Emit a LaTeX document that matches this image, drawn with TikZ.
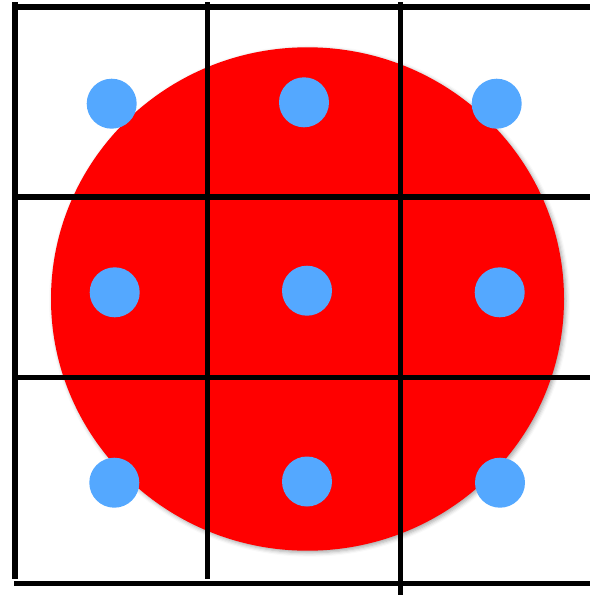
\documentclass[tikz,border=0pt]{standalone}
\usetikzlibrary{shadows.blur}
\definecolor{dotblue}{RGB}{84,168,255}
\definecolor{bigred}{RGB}{255,0,0}
\begin{document}
\begin{tikzpicture}[x=1pt,y=-1pt,
  dot/.style={circle,fill=dotblue,draw=none,minimum size=50pt,inner sep=0pt},
  gridline/.style={line width=5.5pt,black}]
\useasboundingbox (0,0) rectangle (590,595);
% red disc with soft shadow
\fill[bigred,blur shadow={shadow xshift=2pt,shadow yshift=-2pt,shadow blur radius=4pt,shadow opacity=35}]
  (307.5,299) ellipse [x radius=256.5, y radius=251.7];
% dots
\node[dot] (d11) at (111.7,103.7) {};
\node[dot] (d12) at (304,102.3) {};
\node[dot] (d13) at (496.7,103.7) {};
\node[dot] (d21) at (114.7,292.3) {};
\node[dot] (d22) at (307,290.7) {};
\node[dot] (d23) at (499.7,292.3) {};
\node[dot] (d31) at (114.3,482.7) {};
\node[dot] (d32) at (307,481.5) {};
\node[dot] (d33) at (500,482.7) {};
% grid
\draw[gridline] (15,2) -- (15,579);
\draw[gridline] (207.7,2) -- (207.7,579);
\draw[gridline] (400.7,2) -- (400.7,595);
\draw[gridline] (12.5,7) -- (590,7);
\draw[gridline] (12.5,197) -- (590,197);
\draw[gridline] (12.5,377.3) -- (590,377.3);
\draw[gridline] (14,583.5) -- (590,583.5);
\end{tikzpicture}
\end{document}
